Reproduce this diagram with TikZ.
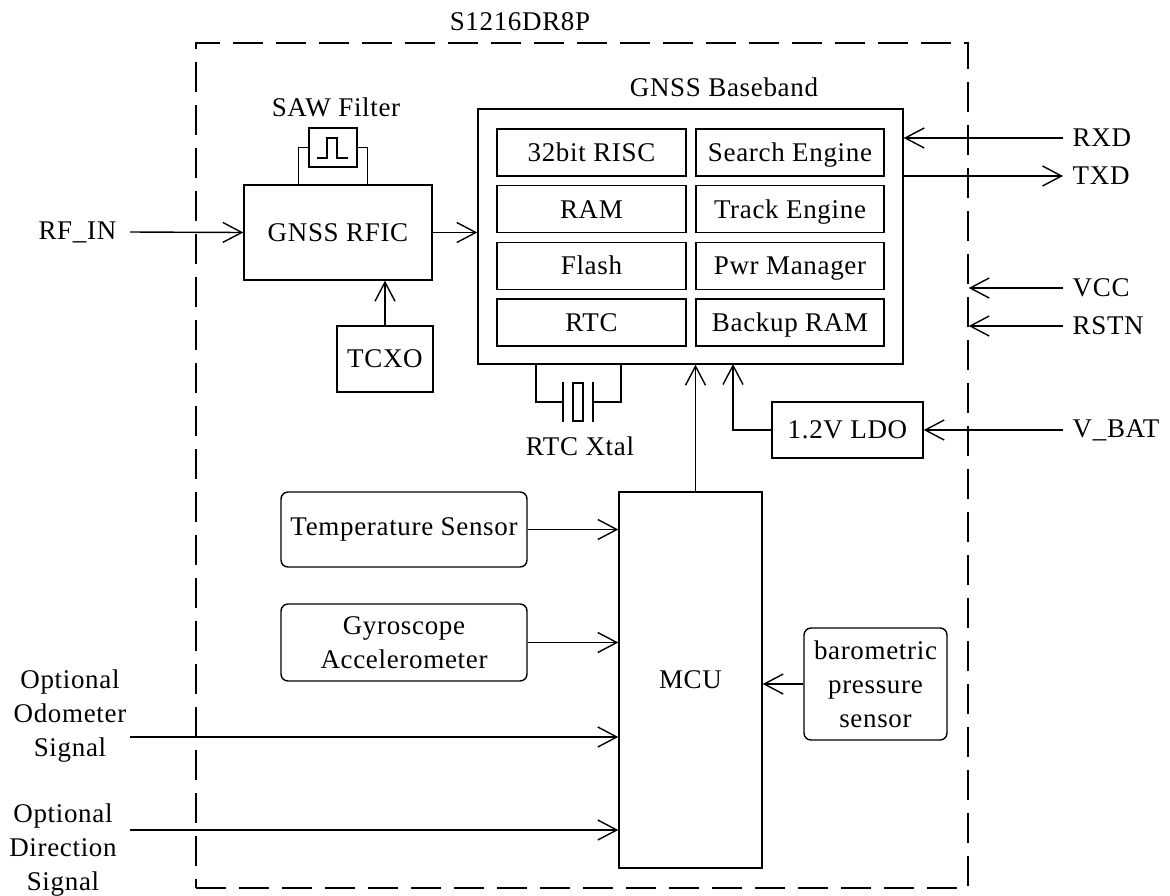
\documentclass[tikz,border=0pt]{standalone}
\usepackage{fontspec}
\setmainfont[LetterSpace=2.5]{Liberation Serif}
\usetikzlibrary{arrows.meta,positioning}
\tikzset{
	blk/.style={draw, inner sep=0pt, align=center},
	cell/.style={blk, minimum height=47pt, text height=19pt, text depth=1pt},
	sens/.style={draw, rounded corners=7pt, inner sep=0pt, align=center},
	arr/.style={-{Straight Barb[length=19pt,width=20pt]}},
	pinlbl/.style={inner sep=0pt},
}
\begin{document}
\begin{tikzpicture}[x=1pt, y=-1pt, line width=1.4pt, font=\fontsize{27}{34}\selectfont]
		\useasboundingbox (0,0) rectangle (1170,895);

		% módulo (caja punteada)
		\node[draw, dash pattern=on 30pt off 13pt, minimum width=772pt, minimum height=845pt] (chip) at (582,465.5) {};
		\node (title) at (520,22) {S1216DR8P};

		% bloques principales
		\node[blk, minimum width=188pt, minimum height=95pt] (rfic) at (338,232.5) {GNSS RFIC}; % RF
		\node[blk, minimum width=48pt, minimum height=39pt] (saw) at (333,147.5) {}; % filtro SAW
		\node (sawlbl) at (336,107) {SAW Filter};
		\node[blk, minimum width=96pt, minimum height=66pt] (tcxo) at (385,359) {TCXO};
		\node[blk, minimum width=425pt, minimum height=255pt] (bb) at (690.5,236.5) {}; % baseband
		\node (bblbl) at (724,87) {GNSS Baseband};
		\foreach \i/\l/\r in {1/32bit RISC/Search Engine, 2/RAM/Track Engine, 3/Flash/Pwr Manager, 4/RTC/Backup RAM} {
			\node[cell, minimum width=189pt] (cl\i) at (591.5,95.6+56.7*\i) {\l};
			\node[cell, minimum width=188pt] (cr\i) at (790,95.6+56.7*\i) {\r};
		}
		\node[blk, minimum width=151pt, minimum height=56pt] (ldo) at (847.5,430) {1.2V LDO};
		\node[blk, minimum width=143pt, minimum height=376pt] (mcu) at (690.5,680) {MCU};
		\node[sens, minimum width=246pt, minimum height=75pt] (temp) at (404,529.5) {Temperature Sensor};
		\node[sens, minimum width=246pt, minimum height=77pt] (gyro) at (404,642.5) {Gyroscope\\Accelerometer};
		\node[sens, minimum width=143pt, minimum height=112pt] (baro) at (875.5,684) {barometric\\pressure\\sensor};

		% símbolo del filtro SAW y sus patas
		\draw ([shift={(-16,10.5)}]saw.center) -- ++(10,0) -- ++(0,-20) -- ++(10,0) -- ++(0,20) -- ++(11,0);
		\draw (saw.west) -| ++(-10,37.5);
		\draw (saw.east) -| ++(10,37.5);

		% cristal RTC
		\coordinate (xtal) at (578,402); % centro del cristal
		\draw (536,364) |- (563,402);
		\draw (563,382) -- (563,422);
		\draw (573,383) rectangle (583,421);
		\draw (593,382) -- (593,422);
		\draw (593,402) -| (621,364);
		\node (xtallbl) at (580,446) {RTC Xtal};

		% conexiones internas
		\draw[arr] (rfic.east) -- (rfic.east -| bb.west);
		\draw[arr] (tcxo.north) -- (tcxo.north |- rfic.south);
		\coordinate (bbldo) at (733,364);
		\draw[arr] (ldo.west) -| (bbldo);
		\draw[arr] ([xshift=5pt]mcu.north) -- ([xshift=5pt]mcu.north |- bb.south);
		\draw[arr] (temp.east) -- (temp.east -| mcu.west);
		\draw[arr] (gyro.east) -- (gyro.east -| mcu.west);
		\draw[arr] (baro.west) -- (baro.west -| mcu.east);

		% señales externas (derecha)
		\coordinate (rxdpin) at (1063,138);
		\coordinate (txdpin) at (1063,176);
		\coordinate (vccpin) at (1063,288);
		\coordinate (rstnpin) at (1063,326);
		\coordinate (vbatpin) at (1063,430);
		\node[pinlbl, right=9pt of rxdpin] (rxd) {RXD};
		\node[pinlbl, right=9pt of txdpin] (txd) {TXD};
		\node[pinlbl, right=9pt of vccpin] (vcc) {VCC};
		\node[pinlbl, right=9pt of rstnpin] (rstn) {RSTN};
		\node[pinlbl, right=9pt of vbatpin] (vbat) {V\_BAT};
		\draw[arr] (rxdpin) -- (bb.east |- rxdpin);
		\draw[arr] (bb.east |- txdpin) -- (txdpin);
		\draw[arr] (vccpin) -- (chip.east |- vccpin);
		\draw[arr] (rstnpin) -- (chip.east |- rstnpin);
		\draw[arr] (vbatpin) -- (ldo.east);

		% señales externas (izquierda)
		\coordinate (rfinpin) at (130,232);
		\coordinate (odopin) at (130,737);
		\coordinate (dirpin) at (130,830);
		\node[pinlbl, left=13pt of rfinpin] (rfin) {RF\_IN};
		\node[align=center] (odo) at (70,716) {Optional\\Odometer\\Signal};
		\node[align=center] (dir) at (63,850) {Optional\\Direction\\Signal};
		\draw[arr] (rfinpin) -- (rfic.west);
		\draw[arr] (odopin) -- (odopin -| mcu.west);
		\draw[arr] (dirpin) -- (dirpin -| mcu.west);
\end{tikzpicture}
\end{document}
